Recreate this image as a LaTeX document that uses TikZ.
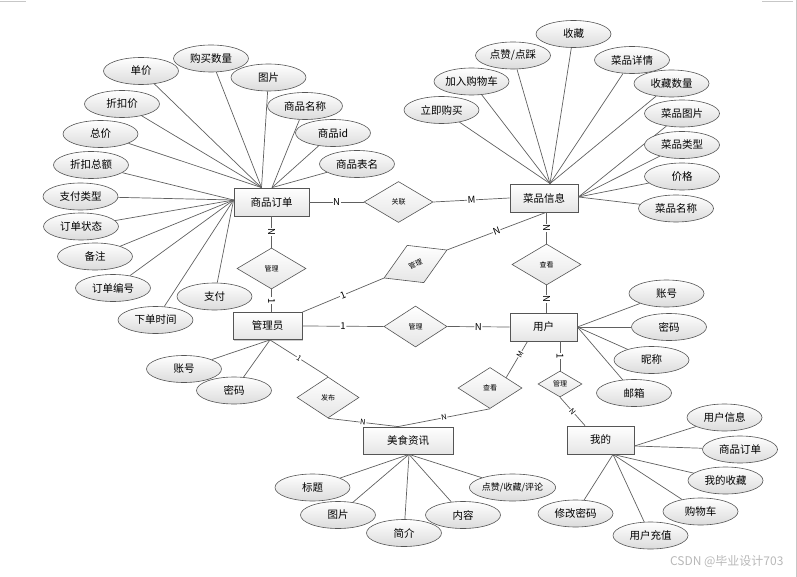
\documentclass[tikz,border=0pt]{standalone}
\usepackage{fontspec}
\setmainfont{Noto Sans CJK SC}
\usetikzlibrary{shapes.geometric,shadows}
\definecolor{lnc}{HTML}{606060}
\definecolor{bdc}{HTML}{555555}
\begin{document}
\begin{tikzpicture}[x=1pt,y=-1pt,
 ent/.style={rectangle,draw=bdc,line width=0.8pt,top color=white,bottom color=black!10,minimum height=28pt,inner sep=0pt,font=\fontsize{10.5}{12}\selectfont,drop shadow={shadow xshift=1.3pt,shadow yshift=-1.3pt,fill=black!40}},
 attr/.style={ellipse,draw=bdc,line width=0.6pt,top color=white,bottom color=black!14,minimum width=75pt,minimum height=27pt,inner sep=0pt,font=\fontsize{10.5}{12}\selectfont},
 rel/.style={diamond,draw=bdc,line width=0.6pt,top color=white,bottom color=black!10,minimum width=69pt,minimum height=41pt,inner sep=0pt,font=\fontsize{7}{8}\selectfont},
 ln/.style={draw=lnc,line width=0.7pt},
 card/.style={fill=white,inner sep=0.6pt,font=\fontsize{9.5}{10}\selectfont,sloped},
 cards/.style={card,font=\fontsize{7.5}{8}\selectfont},
 ]
\useasboundingbox (0,0) rectangle (797,577);
\draw[black!22,line width=0.8pt] (0,1) -- (26,1) (762,1) -- (793,1) (796.5,0) -- (796.5,577);

% entities
\node[ent,minimum width=75pt] (spdd) at (271.5,202) {商品订单};
\node[ent,minimum width=68pt] (cpxx) at (544,198) {菜品信息};
\node[ent,minimum width=69pt,minimum height=27pt] (gly) at (267.5,326) {管理员};
\node[ent,minimum width=67pt] (yh) at (543.5,327) {用户};
\node[ent,minimum width=90pt,minimum height=27pt] (mszx) at (408,440.5) {美食资讯};
\node[ent,minimum width=67pt] (wd) at (600.5,440) {我的};

% relationships
\node[rel] (gl1) at (398.5,202) {关联};
\node[rel] (gl2) at (271.5,268.5) {管理};
\node[rel,rotate=24] (gl3) at (415.5,264) {管理};
\node[rel,minimum width=63pt] (gl4) at (415.5,326.5) {管理};
\node[rel] (ck1) at (546.5,264.5) {查看};
\node[rel,minimum width=62pt] (fb) at (328,397.5) {发布};
\node[rel,minimum width=64pt] (ck2) at (490,388) {查看};
\node[rel,minimum width=44pt,minimum height=26pt] (gl5) at (560,384) {管理};

% connectors
\draw[ln] (spdd.east) -- node[card]{N} (gl1.west);
\draw[ln] (gl1.east) -- node[card]{M} (cpxx.west);
\draw[ln] (spdd.south) -- node[card]{N} (gl2.north);
\draw[ln] (gl2.south) -- node[card]{1} ([xshift=4pt]gly.north);
\draw[ln] (gly.north east) -- node[card]{1} (gl3.west);
\draw[ln] (gl3.east) -- node[card]{N} ([xshift=2pt]cpxx.south);
\draw[ln] ([xshift=2.5pt]cpxx.south) -- node[card]{N} (ck1.north);
\draw[ln] (ck1.south) -- node[card]{N} ([xshift=3pt]yh.north);
\draw[ln] (gly.east) -- node[card]{1} (gl4.west);
\draw[ln] (gl4.east) -- node[card]{N} (yh.west);
\draw[ln] ([xshift=2.5pt]gly.south) -- node[cards]{1} (fb.north);
\draw[ln] (fb.south) -- node[cards]{N} ([xshift=-10pt]mszx.north);
\draw[ln] (ck2.south) -- node[cards]{N} ([xshift=-10pt]mszx.north);
\draw[ln] ([xshift=-16pt]yh.south) -- node[cards,pos=0.35]{M} (ck2.north east);
\draw[ln] ([xshift=16.5pt]yh.south) -- node[card]{1} (gl5.north);
\draw[ln] (gl5.south) -- node[cards]{N} ([xshift=-15.5pt]wd.north);

% attribute anchor points
\coordinate (pA) at ([xshift=-10pt]spdd.north);
\coordinate (pB) at ([xshift=0.5pt]spdd.north);
\coordinate (pC) at ([yshift=2pt]spdd.west);
\coordinate (pT) at ([xshift=6pt]cpxx.north);
\coordinate (pR) at ([yshift=1pt]cpxx.east);
\coordinate (pU) at (yh.east);
\coordinate (pG) at ([xshift=2.5pt]gly.south);
\coordinate (pM) at ([xshift=1pt]mszx.south);
\coordinate (pW) at ([yshift=-6pt]wd.east);
\coordinate (pV) at ([xshift=12.5pt]wd.south);

\foreach \n/\x/\y/\t/\p in {
  a1/141/71/单价/pA, a2/211/58.5/购买数量/pA, a3/268.5/77.5/图片/pA,
  a4/122/104/折扣价/pA, a5/100.5/134/总价/pA,
  a6/91/165/折扣总额/pC, a7/80.5/196.5/支付类型/pC, a8/81/226.5/订单状态/pC,
  a9/95/256.5/备注/pC, a10/113/288/订单编号/pC, a11/155.5/320/下单时间/pC,
  a12/214.5/296.5/支付/pC,
  a13/305/106/商品名称/pB, a14/333/133/商品id/pB, a15/357/164/商品表名/pB,
  b1/573.5/34/收藏/pT, b2/513/55.5/{点赞/点踩}/pT, b3/632/60/菜品详情/pT,
  b4/471.5/81.5/加入购物车/pT, b5/671.5/83.5/收藏数量/pT, b6/441.5/110/立即购买/pT,
  b7/682/113.5/菜品图片/pR, b8/682/145/菜品类型/pR, b9/682/176.5/价格/pR,
  b10/676/208.5/菜品名称/pR,
  c1/666.5/293.5/账号/pU, c2/669/327/密码/pU, c3/651.5/360/昵称/pU, c4/634/393/邮箱/pU,
  d1/184/369/账号/pG, d2/234/390.5/密码/pG,
  e1/312.5/487.5/标题/pM, e2/338/515/图片/pM, e3/404/533/简介/pM, e4/463/515/内容/pM,
  f1/724.5/417.5/用户信息/pW, f2/740/449.5/商品订单/pW,
  f3/725.5/480.5/我的收藏/pV, f4/700.5/511.5/购物车/pV, f5/650.5/535.5/用户充值/pV,
  f6/575.5/513.5/修改密码/pV}
{
  \node[attr] (\n) at (\x,\y) {\t};
  \draw[ln] (\n) -- (\p);
}
\node[attr,font=\fontsize{9}{10}\selectfont] (e5) at (512.5,487.5) {点赞/收藏/评论};
\draw[ln] (e5) -- (pM);

\node[text=black!28,font=\fontsize{12}{14}\selectfont,anchor=east] (wm) at (787,562) {CSDN @毕业设计703};
\end{tikzpicture}
\end{document}
